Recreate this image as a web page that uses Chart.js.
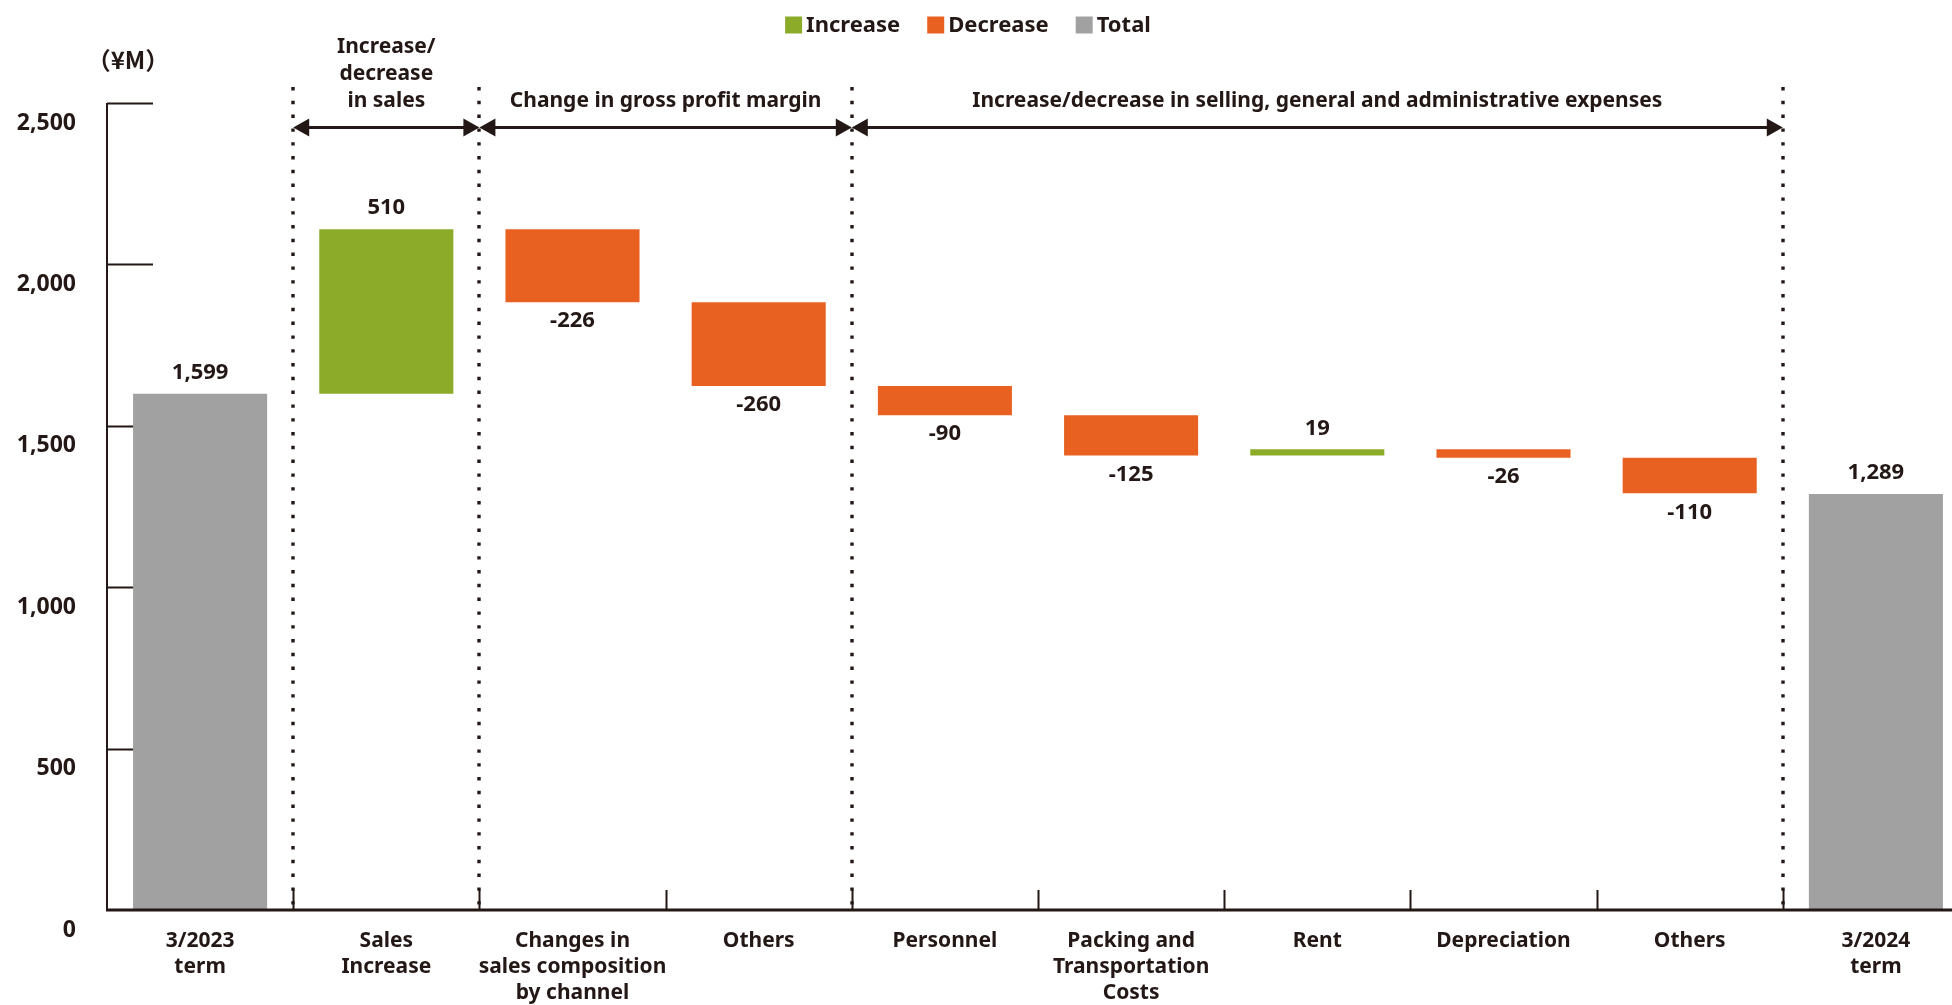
<!DOCTYPE html>
<html>
<head>
<meta charset="utf-8">
<title>Operating profit bridge</title>
<script src="https://cdn.jsdelivr.net/npm/chart.js@4.4.1/dist/chart.umd.min.js"></script>
<style>
  html, body { margin: 0; padding: 0; background: #fff; overflow: hidden; }
  #wrap { position: relative; width: 1969px; height: 1005px; }
</style>
</head>
<body>
<div id="wrap"><canvas id="bridge" width="1969" height="1005"></canvas></div>
<script>
// bridge from the 3/2023 term to the 3/2024 term, in ¥M
const categories = [
  ['3/2023', 'term'],
  ['Sales', 'Increase'],
  ['Changes in', 'sales composition', 'by channel'],
  ['Others'],
  ['Personnel'],
  ['Packing and', 'Transportation', 'Costs'],
  ['Rent'],
  ['Depreciation'],
  ['Others'],
  ['3/2024', 'term']
];
const openingTotal = 1599;
const closingTotal = 1289;
// null marks the two total columns
const changes = [null, 510, -226, -260, -90, -125, 19, -26, -110, null];
const yTicks = [0, 500, 1000, 1500, 2000, 2500];
const seriesNames = ['Increase', 'Decrease', 'Total'];

// bracketed groups above the plot: first and last category index
const sectionTitles = [
  ['Increase/', 'decrease', 'in sales'],
  ['Change in gross profit margin'],
  ['Increase/decrease in selling, general and administrative expenses']
];
const sectionFrom = [1, 2, 4];
const sectionTo = [1, 3, 8];
const unitLabel = '（¥M）';

const INK = '#231815';
const GREEN = '#8cab28';
const ORANGE = '#e96121';
const GRAY = '#a0a1a0';
const FONT = "'Noto Sans', 'Noto Sans CJK JP', sans-serif";

// floating bars for the waterfall
const increaseBars = [];
const decreaseBars = [];
const totalBars = [];
let running = openingTotal;
changes.forEach((d, i) => {
  if (d === null) {
    totalBars.push([0, i === 0 ? openingTotal : closingTotal]);
    increaseBars.push(null);
    decreaseBars.push(null);
    return;
  }
  const next = running + d;
  totalBars.push(null);
  increaseBars.push(d > 0 ? [running, next] : null);
  decreaseBars.push(d < 0 ? [next, running] : null);
  running = next;
});

function fmt(v) {
  return v.toLocaleString('en-US');
}

// left edge of category i
function edgeX(xs, i) {
  const step = xs.getPixelForValue(1) - xs.getPixelForValue(0);
  return xs.getPixelForValue(i) - step / 2;
}

const framePlugin = {
  id: 'frame',
  beforeDatasetsDraw(chart) {
    const { ctx, chartArea, scales: { x, y } } = chart;
    const y0 = y.getPixelForValue(0);
    ctx.save();
    ctx.strokeStyle = INK;

    // y axis line and short inner ticks
    ctx.lineWidth = 2;
    ctx.beginPath();
    ctx.moveTo(chartArea.left, y.getPixelForValue(yTicks[yTicks.length - 1]));
    ctx.lineTo(chartArea.left, y0);
    yTicks.slice(1).forEach(v => {
      const py = Math.round(y.getPixelForValue(v)) + 0.5;
      ctx.moveTo(chartArea.left, py);
      ctx.lineTo(chartArea.left + 46, py);
    });
    ctx.stroke();

    // category separators on the x axis
    ctx.beginPath();
    for (let i = 1; i < categories.length; i++) {
      const px = Math.round(edgeX(x, i)) + 0.5;
      ctx.moveTo(px, y0);
      ctx.lineTo(px, y0 - 20);
    }
    ctx.stroke();

    // dotted dividers at the edges of each bracketed group
    const edges = new Set();
    sectionFrom.forEach((f, k) => { edges.add(f); edges.add(sectionTo[k] + 1); });
    ctx.lineWidth = 3.4;
    ctx.setLineDash([3.4, 10.4]);
    edges.forEach(i => {
      const px = Math.round(edgeX(x, i));
      ctx.beginPath();
      ctx.moveTo(px, chartArea.top - 16);
      ctx.lineTo(px, y0);
      ctx.stroke();
    });
    ctx.restore();
  },

  afterDatasetsDraw(chart) {
    const { ctx, chartArea, scales: { x, y } } = chart;
    const y0 = y.getPixelForValue(0);
    ctx.save();

    // x axis line
    ctx.strokeStyle = INK;
    ctx.lineWidth = 3;
    ctx.beginPath();
    ctx.moveTo(chartArea.left - 1, y0);
    ctx.lineTo(chartArea.right, y0);
    ctx.stroke();

    // value labels
    ctx.fillStyle = INK;
    ctx.font = `bold 22px ${FONT}`;
    ctx.textAlign = 'center';
    ctx.textBaseline = 'middle';
    running = openingTotal;
    changes.forEach((d, i) => {
      const px = x.getPixelForValue(i);
      if (d === null) {
        const v = i === 0 ? openingTotal : closingTotal;
        ctx.fillText(fmt(v), px, y.getPixelForValue(v) - 21);
        return;
      }
      const next = running + d;
      if (d > 0) ctx.fillText(fmt(d), px, y.getPixelForValue(next) - 21);
      else ctx.fillText(fmt(d), px, y.getPixelForValue(next) + 19);
      running = next;
    });

    // group brackets with arrowheads at both ends
    const arrowY = chartArea.top + 24.5;
    const headLen = 16;
    const headHalf = 9;
    ctx.font = `bold 21px ${FONT}`;
    sectionTitles.forEach((lines, k) => {
      const x1 = edgeX(x, sectionFrom[k]);
      const x2 = edgeX(x, sectionTo[k] + 1);
      ctx.lineWidth = 3;
      ctx.beginPath();
      ctx.moveTo(x1 + headLen - 1, arrowY);
      ctx.lineTo(x2 - headLen + 1, arrowY);
      ctx.stroke();
      ctx.beginPath();
      ctx.moveTo(x1, arrowY);
      ctx.lineTo(x1 + headLen, arrowY - headHalf);
      ctx.lineTo(x1 + headLen, arrowY + headHalf);
      ctx.closePath();
      ctx.moveTo(x2, arrowY);
      ctx.lineTo(x2 - headLen, arrowY - headHalf);
      ctx.lineTo(x2 - headLen, arrowY + headHalf);
      ctx.closePath();
      ctx.fill();

      const cx = (x1 + x2) / 2;
      const lastY = chartArea.top - 2;
      lines.forEach((t, j) => {
        ctx.fillText(t, cx, lastY - (lines.length - 1 - j) * 27);
      });
    });

    // unit
    ctx.font = `bold 24px 'Noto Sans CJK JP', ${FONT}`;
    ctx.fillText(unitLabel, chartArea.left + 21, 60);

    // legend
    ctx.font = `bold 22px ${FONT}`;
    ctx.textAlign = 'left';
    const box = 17;
    const gap = 4;
    const spacing = 27;
    const items = chart.data.datasets.map(ds => ({
      text: ds.label,
      color: ds.backgroundColor,
      w: box + gap + ctx.measureText(ds.label).width
    }));
    const total = items.reduce((s, it) => s + it.w, 0) + spacing * (items.length - 1);
    let lx = 968 - total / 2;
    const ly = 25;
    items.forEach(it => {
      ctx.fillStyle = it.color;
      ctx.fillRect(lx, ly - box / 2, box, box);
      ctx.fillStyle = INK;
      ctx.fillText(it.text, lx + box + gap, ly + 1);
      lx += it.w + spacing;
    });
    ctx.restore();
  }
};

const barStyle = { grouped: false, barPercentage: 0.72, categoryPercentage: 1, borderWidth: 0 };

new Chart(document.getElementById('bridge'), {
  type: 'bar',
  data: {
    labels: categories,
    datasets: [
      { label: seriesNames[0], data: increaseBars, backgroundColor: GREEN, ...barStyle },
      { label: seriesNames[1], data: decreaseBars, backgroundColor: ORANGE, ...barStyle },
      { label: seriesNames[2], data: totalBars, backgroundColor: GRAY, ...barStyle }
    ]
  },
  options: {
    responsive: false,
    animation: false,
    layout: { padding: { top: 103, left: 0, right: 0, bottom: 0 } },
    plugins: {
      legend: { display: false },
      tooltip: { enabled: false }
    },
    scales: {
      x: {
        grid: { display: false, drawTicks: false },
        border: { display: false },
        ticks: {
          color: INK,
          font: { family: FONT, size: 21, weight: 'bold', lineHeight: 1.24 },
          padding: 18,
          maxRotation: 0,
          autoSkip: false
        },
        afterFit(scale) { scale.height = 95; }
      },
      y: {
        min: 0,
        max: 2500,
        grid: { display: false, drawTicks: false },
        border: { display: false },
        afterBuildTicks(scale) { scale.ticks = yTicks.map(v => ({ value: v })); },
        ticks: {
          color: INK,
          font: { family: FONT, size: 23, weight: 'bold' },
          padding: 31,
          labelOffset: 20,
          callback: v => fmt(v)
        },
        afterFit(scale) { scale.width = 107; }
      }
    }
  },
  plugins: [framePlugin]
});
</script>
</body>
</html>
